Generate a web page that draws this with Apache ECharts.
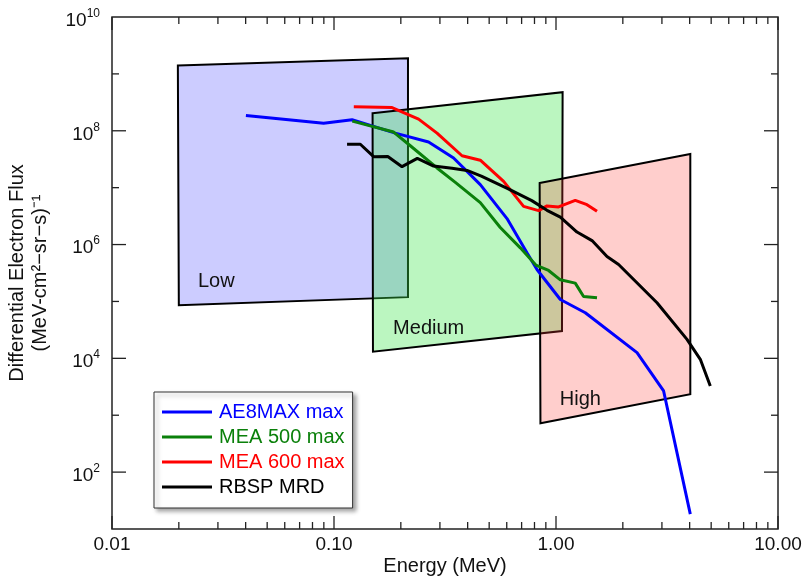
<!DOCTYPE html>
<html>
<head>
<meta charset="utf-8">
<script src="https://cdn.jsdelivr.net/npm/echarts@6/dist/echarts.min.js"></script>
<style>
html,body{margin:0;padding:0;background:#fff;}
#chart{width:804px;height:579px;}
</style>
</head>
<body>
<div id="chart"></div>
<script>
// ---------- data ----------
const seriesNames = ['AE8MAX max', 'MEA 500 max', 'MEA 600 max', 'RBSP MRD'];
const seriesColors = ['#0000ff', '#0a800a', '#ff0000', '#000000'];

const ae8Energy = [0.0401, 0.0898, 0.1206, 0.1889, 0.2667, 0.3457, 0.456, 0.6016, 0.740, 0.821, 1.046, 1.355, 2.317, 3.053, 4.027];
const ae8Flux   = [1.86e8, 1.36e8, 1.56e8, 9.1e7, 6.34e7, 3.32e7, 1.13e7, 2.86e6, 7.15e5, 3.64e5, 1.08e5, 6.34e4, 1.26e4, 2.67e3, 18.3];

const mea500Energy = [0.1209, 0.1856, 0.2207, 0.2911, 0.352, 0.456, 0.561, 0.6906, 0.811, 0.926, 1.046, 1.221, 1.331, 1.530];
const mea500Flux   = [1.48e8, 9.49e7, 5.46e7, 2.22e7, 1.24e7, 5.46e6, 1.99e6, 8.75e5, 4.37e5, 3.50e5, 2.40e5, 2.10e5, 1.22e5, 1.16e5];

const mea600Energy = [0.1228, 0.1826, 0.2405, 0.2911, 0.3773, 0.456, 0.5808, 0.7145, 0.835, 0.911, 1.027, 1.221, 1.379, 1.530];
const mea600Flux   = [2.64e8, 2.56e8, 1.60e8, 9.1e7, 3.64e7, 3.04e7, 1.29e7, 4.70e6, 3.95e6, 4.78e6, 4.58e6, 5.98e6, 5.03e6, 3.84e6];

const rbspEnergy = [0.1145, 0.1314, 0.1508, 0.1747, 0.2025, 0.2373, 0.2810, 0.340, 0.3972, 0.4609, 0.6066, 0.778, 0.911, 1.046, 1.243, 1.453, 1.697, 1.914, 2.851, 3.891, 4.467, 4.955];
const rbspFlux   = [5.80e7, 5.80e7, 3.50e7, 3.54e7, 2.34e7, 3.27e7, 2.40e7, 2.20e7, 2.01e7, 1.60e7, 9.6e6, 5.92e6, 4.0e6, 3.03e6, 1.66e6, 1.175e6, 6.16e5, 4.46e5, 9.5e4, 2.15e4, 9.6e3, 3.27e3];

// energy-range boxes (corners: top-left, top-right, bottom-right, bottom-left)
const boxNames = ['Low', 'Medium', 'High'];
const lowBoxEnergy  = [0.0198, 0.2154, 0.2154, 0.0200];
const lowBoxFlux    = [1.40e9, 1.89e9, 1.19e5, 8.61e4];
const medBoxEnergy  = [0.1492, 1.071, 1.064, 0.1498];
const medBoxFlux    = [2.04e8, 4.77e8, 3.01e4, 1.31e4];
const highBoxEnergy = [0.844, 4.027, 4.027, 0.851];
const highBoxFlux   = [1.21e7, 3.90e7, 2.34e3, 7.24e2];
const boxLabelEnergy = [0.0295, 0.267, 1.287];
const boxLabelFlux   = [2.24e5, 3.36e4, 1.91e3];

// axis ticks
const xTickLabels = ['0.01', '0.10', '1.00', '10.00'];
const xMajorTicks = [0.01, 0.1, 1, 10];
const xMinorTicks = [0.02,0.03,0.04,0.05,0.06,0.07,0.08,0.09, 0.2,0.3,0.4,0.5,0.6,0.7,0.8,0.9, 2,3,4,5,6,7,8,9];
const yMajorTicks = [1e2, 1e4, 1e6, 1e8];
const yMinorTicks = [1e3, 1e5, 1e7, 1e9];

// ---------- chart ----------
const FONT = "'Liberation Sans', Arial, Helvetica, sans-serif";
const X_MIN = 0.01, X_MAX = 10, Y_MIN = 10, Y_MAX = 1e10;
const boxes = [
  {E: lowBoxEnergy,  F: lowBoxFlux,  fill: 'rgba(0,0,255,0.2)'},
  {E: medBoxEnergy,  F: medBoxFlux,  fill: 'rgba(60,230,75,0.35)'},
  {E: highBoxEnergy, F: highBoxFlux, fill: 'rgba(255,60,50,0.25)'}
];

const chart = echarts.init(document.getElementById('chart'), null, {renderer: 'canvas'});

const tickData = [];
xMajorTicks.forEach(v => tickData.push([v, Y_MIN, 13, 0]));
xMinorTicks.forEach(v => tickData.push([v, Y_MIN, 7, 0]));
yMajorTicks.forEach(v => tickData.push([X_MIN, v, 14, 1]));
yMinorTicks.forEach(v => tickData.push([X_MIN, v, 7, 1]));

const tickStyle = {stroke: '#222', lineWidth: 1.3};

const boxSeries = boxes.map((b, i) => ({
  type: 'custom',
  name: boxNames[i],
  silent: true,
  clip: false,
  z: 1,
  data: [[b.E[0], b.F[0], i]],
  renderItem: function (params, api) {
    const bx = boxes[api.value(2)];
    const pts = bx.E.map((e, k) => api.coord([e, bx.F[k]]));
    return {
      type: 'polygon',
      shape: {points: pts},
      style: {fill: bx.fill, stroke: '#000', lineWidth: 2, lineJoin: 'miter'}
    };
  }
}));

const lineSeries = [
  [ae8Energy, ae8Flux], [mea500Energy, mea500Flux], [mea600Energy, mea600Flux], [rbspEnergy, rbspFlux]
].map((d, i) => ({
  type: 'line',
  name: seriesNames[i],
  z: 5,
  showSymbol: false,
  symbol: 'none',
  color: seriesColors[i],
  lineStyle: {width: 3, color: seriesColors[i]},
  data: d[0].map((e, k) => [e, d[1][k]])
}));

const option = {
  animation: false,
  backgroundColor: '#fff',
  grid: {left: 112, right: 26, top: 17, bottom: 50, containLabel: false, outerBoundsMode: 'none',
         show: true, borderColor: '#222', borderWidth: 1.5, backgroundColor: 'transparent'},
  xAxis: {
    type: 'log', logBase: 10, min: X_MIN, max: X_MAX, interval: 1,
    name: 'Energy (MeV)', nameLocation: 'middle', nameGap: 27, nameMoveOverlap: false,
    nameTextStyle: {fontFamily: FONT, fontSize: 20, color: '#111'},
    axisLine: {show: false}, axisTick: {show: false}, splitLine: {show: false},
    axisLabel: {
      margin: 6, fontFamily: FONT, fontSize: 19, color: '#111',
      formatter: function (v) {
        const idx = xMajorTicks.findIndex(t => Math.abs(Math.log10(t) - Math.log10(v)) < 1e-6);
        return idx >= 0 ? xTickLabels[idx] : '';
      }
    }
  },
  yAxis: {
    type: 'log', logBase: 10, min: Y_MIN, max: Y_MAX, interval: 1,
    name: 'Differential Electron Flux\n(MeV-cm²−sr−s)⁻¹', nameLocation: 'middle', nameGap: 60, nameMoveOverlap: false,
    nameTextStyle: {fontFamily: FONT, fontSize: 20, color: '#111', lineHeight: 23},
    axisLine: {show: false}, axisTick: {show: false}, splitLine: {show: false},
    axisLabel: {
      margin: 12, fontFamily: FONT, color: '#111', padding: [7, 0, 0, 0],
      formatter: function (v) {
        const e = Math.round(Math.log10(v));
        if (e % 2 !== 0) return '';
        return '{b|10}{s|' + e + '}';
      },
      rich: {
        b: {fontSize: 19, fontFamily: FONT, color: '#111', lineHeight: 26, verticalAlign: 'middle'},
        s: {fontSize: 12, fontFamily: FONT, color: '#111', lineHeight: 12, verticalAlign: 'top'}
      }
    }
  },
  legend: {
    orient: 'vertical', left: 154, top: 392,
    padding: [10, 8, 11, 8], itemGap: 5, itemWidth: 50, itemHeight: 3, icon: 'rect',
    backgroundColor: '#fff', borderColor: '#333', borderWidth: 1,
    shadowColor: 'rgba(0,0,0,0.35)', shadowBlur: 4, shadowOffsetX: 3, shadowOffsetY: 3,
    selectedMode: false,
    textStyle: {fontFamily: FONT, fontSize: 20, padding: [0, 0, 0, 2]},
    data: seriesNames.map((n, i) => ({name: n, textStyle: {color: seriesColors[i]}}))
  },
  series: [
    ...boxSeries,
    {
      type: 'custom', name: 'boxLabels', silent: true, clip: false, z: 3,
      data: boxNames.map((n, i) => [boxLabelEnergy[i], boxLabelFlux[i], i]),
      renderItem: function (params, api) {
        const p = api.coord([api.value(0), api.value(1)]);
        return {
          type: 'text',
          x: p[0], y: p[1],
          style: {text: boxNames[api.value(2)], fill: '#111', font: '20px ' + FONT,
                  align: 'center', verticalAlign: 'middle'}
        };
      }
    },
    ...lineSeries,
    {
      type: 'custom', name: 'ticks', silent: true, clip: false, z: 10,
      data: tickData,
      renderItem: function (params, api) {
        const v0 = api.value(0), v1 = api.value(1), len = api.value(2), kind = api.value(3);
        if (kind === 0) {
          const pb = api.coord([v0, Y_MIN]), pt = api.coord([v0, Y_MAX]);
          return {type: 'group', children: [
            {type: 'line', shape: {x1: pb[0], y1: pb[1], x2: pb[0], y2: pb[1] - len}, style: tickStyle},
            {type: 'line', shape: {x1: pt[0], y1: pt[1], x2: pt[0], y2: pt[1] + len}, style: tickStyle}
          ]};
        } else {
          const pl = api.coord([X_MIN, v1]), pr = api.coord([X_MAX, v1]);
          return {type: 'group', children: [
            {type: 'line', shape: {x1: pl[0], y1: pl[1], x2: pl[0] + len, y2: pl[1]}, style: tickStyle},
            {type: 'line', shape: {x1: pr[0], y1: pr[1], x2: pr[0] - len, y2: pr[1]}, style: tickStyle}
          ]};
        }
      }
    }
  ]
};
chart.setOption(option);
</script>
</body>
</html>
